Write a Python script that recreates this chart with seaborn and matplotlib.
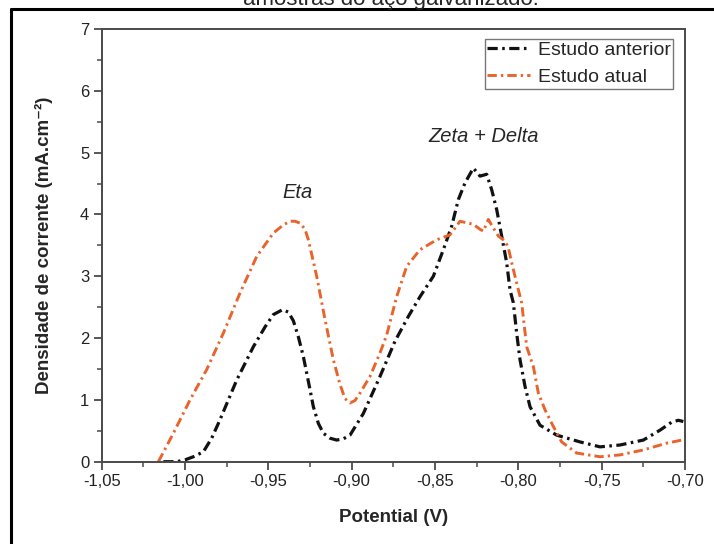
import matplotlib
matplotlib.use("Agg")
import matplotlib.pyplot as plt
import seaborn as sns
import numpy as np
import pandas as pd
from matplotlib.lines import Line2D
from matplotlib.ticker import MultipleLocator, FixedLocator

# ---- data ----
x_anterior = [-1.013, -1.005, -1.000, -0.995, -0.989, -0.984, -0.979, -0.969, -0.959, -0.952,
              -0.947, -0.9414, -0.938, -0.935, -0.932, -0.929, -0.926, -0.923, -0.920, -0.917,
              -0.913, -0.909, -0.905, -0.901, -0.893, -0.883, -0.874, -0.866, -0.859, -0.851,
              -0.845, -0.840, -0.836, -0.832, -0.827, -0.823, -0.819, -0.816, -0.813, -0.810,
              -0.807, -0.805, -0.803, -0.801, -0.799, -0.796, -0.793, -0.787, -0.777, -0.763,
              -0.751, -0.739, -0.725, -0.715, -0.708, -0.704, -0.701]
y_anterior = [0.00, 0.00, 0.03, 0.08, 0.16, 0.38, 0.68, 1.32, 1.86, 2.18,
              2.38, 2.46, 2.42, 2.28, 2.02, 1.70, 1.30, 0.89, 0.62, 0.46,
              0.38, 0.35, 0.37, 0.43, 0.78, 1.38, 1.95, 2.35, 2.67, 3.00,
              3.43, 3.81, 4.24, 4.51, 4.75, 4.62, 4.65, 4.40, 4.08, 3.65,
              3.22, 2.78, 2.57, 2.08, 1.65, 1.22, 0.89, 0.59, 0.43, 0.32,
              0.24, 0.27, 0.35, 0.51, 0.64, 0.67, 0.65]

x_atual = [-1.016, -1.007, -0.997, -0.987, -0.977, -0.967, -0.957, -0.947, -0.941, -0.937,
           -0.934, -0.931, -0.928, -0.926, -0.921, -0.916, -0.911, -0.907, -0.904, -0.901,
           -0.898, -0.895, -0.889, -0.883, -0.879, -0.873, -0.867, -0.859, -0.849, -0.841,
           -0.835, -0.827, -0.823, -0.821, -0.818, -0.815, -0.812, -0.808, -0.806, -0.804,
           -0.801, -0.798, -0.795, -0.791, -0.788, -0.784, -0.779, -0.774, -0.765, -0.751,
           -0.739, -0.725, -0.711, -0.700]
y_atual = [0.00, 0.46, 1.00, 1.49, 2.08, 2.73, 3.32, 3.70, 3.83, 3.89,
           3.89, 3.86, 3.76, 3.59, 3.00, 2.30, 1.65, 1.25, 1.02, 0.95,
           0.99, 1.11, 1.38, 1.76, 2.05, 2.67, 3.16, 3.43, 3.59, 3.67,
           3.89, 3.84, 3.76, 3.73, 3.92, 3.78, 3.65, 3.57, 3.46, 3.22,
           2.89, 2.57, 1.86, 1.54, 1.11, 0.84, 0.57, 0.32, 0.14, 0.08,
           0.11, 0.19, 0.30, 0.36]

series_names = ["Estudo anterior", "Estudo atual"]
x_ticks = [-1.05, -1.00, -0.95, -0.90, -0.85, -0.80, -0.75, -0.70]
x_tick_labels = ["-1,05", "-1,00", "-0,95", "-0,90", "-0,85", "-0,80", "-0,75", "-0,70"]
y_ticks = [0, 1, 2, 3, 4, 5, 6, 7]
annotations = ["Eta", "Zeta + Delta"]
title_text = "amostras do aço galvanizado."

# ---- style ----
sns.set_style("white")
plt.rcParams['font.family'] = ['Liberation Sans', 'DejaVu Sans']

fig = plt.figure(figsize=(7.14, 5.44), dpi=100)
ax = fig.add_axes([101.7 / 714, 1 - 461.7 / 544, (685 - 101.7) / 714, (461.7 - 29) / 544])

black = "#111111"
orange = "#E8642C"
ls = (0, (3.2, 1.4, 0.8, 1.4))

sns.lineplot(x=x_anterior, y=y_anterior, ax=ax, color=black, lw=2.3,
             linestyle=ls, label=series_names[0], sort=False)
sns.lineplot(x=x_atual, y=y_atual, ax=ax, color=orange, lw=2.1,
             linestyle=ls, label=series_names[1], sort=False)
for ln in ax.get_lines():
    ln.set_solid_joinstyle("round")
    ln.set_dash_joinstyle("round")

ax.set_xlim(-1.05, -0.70)
ax.set_ylim(0, 7)
ax.xaxis.set_major_locator(FixedLocator(x_ticks))
ax.set_xticklabels(x_tick_labels)
ax.xaxis.set_minor_locator(MultipleLocator(0.025))
ax.yaxis.set_major_locator(FixedLocator(y_ticks))
ax.yaxis.set_minor_locator(MultipleLocator(0.5))

spine_c = "#4a4a4a"
for s in ax.spines.values():
    s.set_color(spine_c)
    s.set_linewidth(1.4)
ax.tick_params(which="major", direction="out", length=6, width=1.3, color=spine_c,
               labelsize=12, labelcolor="#222222", bottom=True, left=True, pad=3)
ax.tick_params(which="minor", direction="out", length=3.5, width=1.1, color=spine_c,
               bottom=True, left=True)

ax.set_xlabel("Potential (V)", fontsize=13.5, fontweight="bold", labelpad=14)
ax.set_ylabel("Densidade de corrente (mA.cm\u207b\u00b2)", fontsize=13.5,
              fontweight="bold", labelpad=19)

ax.text(-0.9328, 4.35, annotations[0], fontsize=14.5, style="italic", ha="center", va="center")
ax.text(-0.8211, 5.26, annotations[1], fontsize=14.5, style="italic", ha="center", va="center")

leg = ax.legend(loc="upper right", bbox_to_anchor=(0.9794, 0.977), fontsize=14,
                frameon=True, fancybox=False, framealpha=1, edgecolor="#777777",
                borderpad=0.12, labelspacing=0.5, handlelength=2.2, handletextpad=0.4,
                borderaxespad=0.0)
leg.get_frame().set_linewidth(1.0)

# cut-off caption at top and outer frame
fig.text(391 / 714, 1 - 5 / 544, title_text, fontsize=16, ha="center", va="baseline")
fig.add_artist(Line2D([11.5 / 714, 11.5 / 714], [0, 1 - 9 / 544], color="black", lw=2.2,
                      transform=fig.transFigure))
fig.add_artist(Line2D([11.5 / 714, 1.0], [1 - 9 / 544, 1 - 9 / 544], color="black", lw=2.2,
                      transform=fig.transFigure))

fig.savefig("out.png", dpi=100)
